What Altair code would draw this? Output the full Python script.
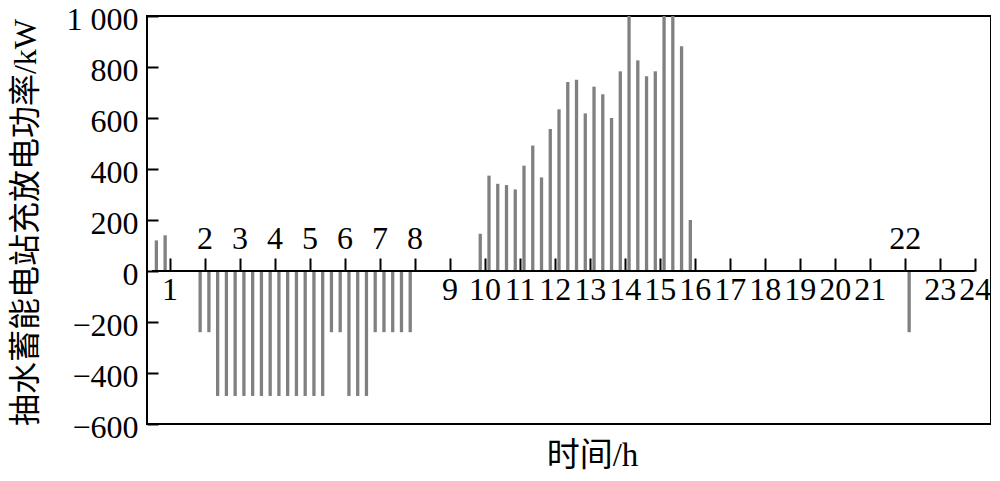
import altair as alt
import pandas as pd

# ---- data ----
step = 0.25                      # 15-minute intervals, bars at interval centres
pre_start = 0.625
pre_values = [120, 140]
charge_start = 1.875
charge_values = [-240, -240, -490, -490, -490, -490, -490, -490, -490, -490,
                 -490, -490, -490, -490, -490, -240, -240, -490, -490, -490,
                 -240, -240, -240, -240, -240]
discharge_start = 9.875
discharge_values = [146, 374, 342, 337, 320, 413, 492, 367, 557, 634,
                    741, 750, 618, 723, 693, 600, 783, 1000, 826, 764,
                    783, 1000, 1000, 881, 200]
late_start = 22.125
late_values = [-240]

hour_ticks = list(range(1, 25))
labels_above = [2, 3, 4, 5, 6, 7, 8, 22]
y_ticks = [-600, -400, -200, 0, 200, 400, 600, 800, 1000]
x_domain = [0.5, 24.32]
y_domain = [-600, 1000]

rows = []
for start, vals in [(pre_start, pre_values), (charge_start, charge_values),
                    (discharge_start, discharge_values), (late_start, late_values)]:
    for i, v in enumerate(vals):
        rows.append({"hour": start + i * step, "power": v})
bars_df = pd.DataFrame(rows)
ticks_df = pd.DataFrame({"hour": hour_ticks, "zero": [0] * len(hour_ticks)})
zero_df = pd.DataFrame({"start": [x_domain[0]], "end": [hour_ticks[-1]], "level": [0]})

SERIF = "Liberation Serif, Noto Sans CJK SC"
FS = 32
W, H = 844, 408
x_scale = alt.Scale(domain=x_domain, nice=False, zero=False)
y_scale = alt.Scale(domain=y_domain, nice=False, zero=False)
zero_px = H * (y_domain[1] - 0) / (y_domain[1] - y_domain[0])
above_list = "[" + ",".join(str(v) for v in labels_above) + "]"

bars = alt.Chart(bars_df).mark_bar(orient="vertical", size=3.3, color="#808080").encode(
    x=alt.X("hour:Q", scale=x_scale,
            axis=alt.Axis(orient="bottom", offset=-(H - zero_px), values=hour_ticks,
                          labelExpr=f"indexof({above_list}, datum.value) < 0 ? datum.label : ''",
                          ticks=False, tickSize=0, domain=False, grid=False,
                          labelPadding=3, labelFontSize=FS, labelFont=SERIF,
                          labelColor="black", labelFlush=False, labelOverlap=False,
                          labelBound=False,
                          title="时间/h", titleFont=SERIF, titleFontSize=33,
                          titleFontWeight="normal", titleColor="black",
                          titleX=445, titleY=184, titleAlign="center",
                          titleBaseline="middle")),
    y=alt.Y("power:Q", scale=y_scale,
            axis=alt.Axis(orient="left", values=y_ticks,
                          labelExpr="datum.value == 1000 ? '1 000' : format(datum.value, 'd')",
                          ticks=False, tickSize=0, domain=False, grid=False,
                          labelPadding=9, labelFontSize=FS, labelFont=SERIF,
                          labelOffset=3,
                          labelColor="black", labelOverlap=False, labelBound=False,
                          labelFlush=False,
                          title="抽水蓄能电站充放电功率/kW", titleFont=SERIF,
                          titleFontSize=32, titleFontWeight="normal", titleColor="black",
                          titleX=-122, titleY=206, titleAngle=270, titleAlign="center",
                          titleBaseline="middle")),
)

zero_line = alt.Chart(zero_df).mark_rule(color="black", strokeWidth=2).encode(
    x=alt.X("start:Q", scale=x_scale, axis=None),
    x2="end:Q",
    y=alt.Y("level:Q", scale=y_scale, axis=None),
)

tick_layer = alt.Chart(ticks_df).mark_point(opacity=0).encode(
    x=alt.X("hour:Q", scale=x_scale,
            axis=alt.Axis(orient="top", offset=-zero_px, values=hour_ticks,
                          labelExpr=f"indexof({above_list}, datum.value) >= 0 ? datum.label : ''",
                          ticks=True, tickSize=13, tickWidth=2, tickColor="black",
                          domain=False, grid=False, labelPadding=3, labelFontSize=FS,
                          labelFont=SERIF, labelColor="black", labelFlush=False,
                          labelOverlap=False, labelBound=False, title=None)),
    y=alt.Y("zero:Q", scale=y_scale,
            axis=alt.Axis(orient="right", offset=-W, values=y_ticks, labels=False,
                          ticks=True, tickSize=11, tickWidth=2, tickColor="black",
                          domain=False, grid=False, title=None)),
)

chart = alt.layer(bars, zero_line, tick_layer).resolve_axis(
    x="independent", y="independent"
).properties(
    width=W, height=H,
    autosize=alt.AutoSizeParams(type="none"),
    padding={"left": 139, "top": 8, "right": 0, "bottom": 48},
).configure_view(stroke="black", strokeWidth=2).configure_axis(grid=False)

chart.save("out.html", embed_options={"renderer": "svg", "actions": False})
